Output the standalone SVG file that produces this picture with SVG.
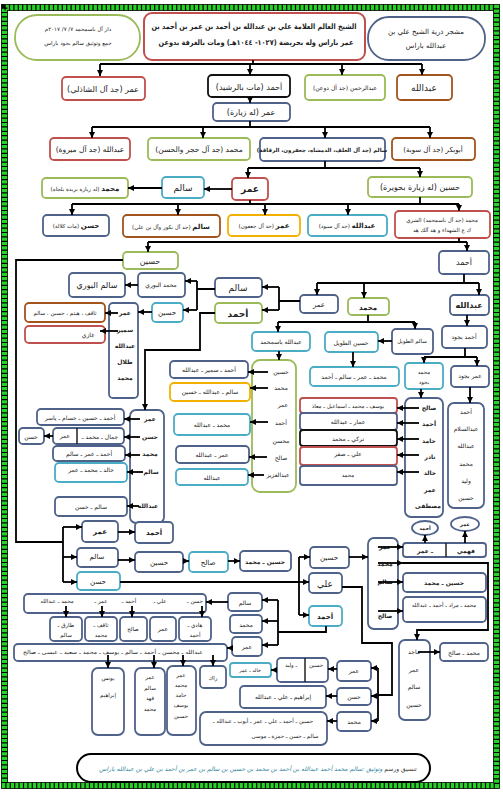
<svg xmlns="http://www.w3.org/2000/svg" width="503" height="793" viewBox="0 0 503 793">
<defs>
<marker id="ar" viewBox="0 0 10 10" refX="10" refY="5" markerWidth="6" markerHeight="6" markerUnits="userSpaceOnUse" orient="auto"><path d="M0,0 L10,5 L0,10 z" fill="#000"/></marker>
<style>
.bx{fill:#fff;stroke-width:1.8}
.bl{stroke:#4f6289}.rd{stroke:#c0504d}.gr{stroke:#9bbb59}.br{stroke:#a3541c}.tl{stroke:#4bacc6}.yl{stroke:#f2b100}.bk{stroke:#111}
text{font-family:"DejaVu Sans",sans-serif;font-size:7px;fill:#222;text-anchor:middle;direction:rtl}
.b{font-weight:bold}
.s{font-size:5.5px}
.t{font-size:6px}
.dv{stroke:#222;stroke-width:1.5}
#connectors path{fill:none;stroke:#000;stroke-width:1.8}
#connectors .a{marker-end:url(#ar)}
</style>
</defs>
<rect x="0" y="0" width="503" height="793" fill="#fff"/>
<g id="frame" fill="none">
<rect x="4.5" y="7.5" width="492" height="778" stroke="#27d327" stroke-width="6"/>
<rect x="4.5" y="7.5" width="492" height="778" stroke="#000" stroke-width="6" stroke-dasharray="1.2 3.2"/>
<rect x="1.5" y="4.5" width="498" height="784" stroke="#000" stroke-width="0.8"/>
<rect x="7.5" y="10.5" width="486" height="772" stroke="#000" stroke-width="0.8"/>
</g>

<g id="n1"><rect class="bx gr" x="15" y="15" width="125" height="45" rx="22"/><text x="78" y="31" class="s">دار آل باسمحمد ٧/ ٧/ ٢٠١٧م</text><text x="78" y="45" class="s">جمع وتوثيق سالم بجود باراس</text></g>
<g id="n2"><rect class="bx rd" x="144" y="13" width="221" height="47" rx="8" style="stroke-width:2"/><text x="254" y="29" class="b" style="font-size:7.5px" textLength="205" lengthAdjust="spacingAndGlyphs">الشيخ العالم العلامة علي بن عبدالله بن أحمد بن عمر بن أحمد بن</text><text x="256" y="45" class="b" style="font-size:7.5px" textLength="195" lengthAdjust="spacingAndGlyphs">عمر باراس وله بحريضة (١٠٢٧- ١٠٤٤هـ) ومات بالغرفة بدوعن</text></g>
<g id="n3"><rect class="bx bl" x="368" y="17" width="117" height="43" rx="21"/><text x="426" y="34">مشجر ذرية الشيخ علي بن</text><text x="426" y="48">عبدالله  باراس</text></g>

<g id="n4"><rect class="bx rd" x="62" y="77" width="83" height="23" rx="4"/><text x="103" y="92" style="font-size:8px">عمر (جد آل الشاذلي)</text></g>
<g id="n5"><rect class="bx bk" x="208" y="75" width="82" height="22" rx="4"/><text x="249" y="90" style="font-size:8px">أحمد (مات بالرشيد)</text></g>
<g id="n6"><rect class="bx gr" x="305" y="75" width="80" height="25" rx="4"/><text x="345" y="90" class="t">عبدالرحمن (جد آل دوعن)</text></g>
<g id="n7"><rect class="bx br" x="397" y="75" width="55" height="25" rx="4"/><text x="424" y="91" style="font-size:9px">عبدالله</text></g>
<g id="n8"><rect class="bx bl" x="213" y="103" width="77" height="18" rx="4"/><text x="251" y="115" style="font-size:8px">عمر (له زيارة)</text></g>

<g id="n9"><rect class="bx rd" x="50" y="138" width="80" height="22" rx="4"/><text x="90" y="152" style="font-size:7.5px">عبدالله (جد آل ميروة)</text></g>
<g id="n10"><rect class="bx gr" x="148" y="138" width="102" height="22" rx="4"/><text x="199" y="152" style="font-size:7.5px">محمد (جد آل حجر والحسن)</text></g>
<g id="n11"><rect class="bx bl" x="260" y="138" width="125" height="23" rx="4"/><text x="322" y="152" class="s b">سالم (جد آل العلف، الدمشاه، جعفرون، الرقاقة)</text></g>
<g id="n12"><rect class="bx br" x="392" y="138" width="83" height="22" rx="4"/><text x="433" y="152">أبوبكر (جد آل سوبة)</text></g>

<g id="n13"><rect class="bx rd" x="232" y="178" width="36" height="22" rx="4"/><text x="250" y="192" class="b" style="font-size:9px">عمر</text></g>
<g id="n14"><rect class="bx tl" x="162" y="177" width="42" height="21" rx="4"/><text x="183" y="191" style="font-size:9px">سالم</text></g>
<g id="n15"><rect class="bx gr" x="42" y="178" width="86" height="20" rx="4"/><text x="85" y="191" class="s"><tspan class="b" style="font-size:7px">محمد</tspan> (له زيارة بريدة بلجاه)</text></g>
<g id="n16"><rect class="bx gr" x="368" y="177" width="104" height="20" rx="4"/><text x="420" y="190" style="font-size:8px">حسين (له زيارة بحويرة)</text></g>

<g id="n17"><rect class="bx bl" x="43" y="215" width="66" height="21" rx="4"/><text x="76" y="228" class="s"><tspan class="b" style="font-size:7px">حسن</tspan> (مات كلالة)</text></g>
<g id="n18"><rect class="bx br" x="123" y="215" width="97" height="22" rx="4"/><text x="171" y="229" class="s"><tspan class="b" style="font-size:7px">سالم</tspan> (جد آل بكور وآل بن علي)</text></g>
<g id="n19"><rect class="bx yl" x="228" y="215" width="72" height="21" rx="4"/><text x="264" y="228" class="s"><tspan class="b" style="font-size:7px">عمر</tspan> (جد آل جعفون)</text></g>
<g id="n20"><rect class="bx tl" x="308" y="215" width="79" height="21" rx="4"/><text x="347" y="228" class="s"><tspan class="b" style="font-size:7px">عبدالله</tspan> (جد آل سيود)</text></g>
<g id="n21"><rect class="bx rd" x="395" y="211" width="95" height="27" rx="4"/><text x="442" y="222" class="s">محمد (جد آل باسمحمد) الشري</text><text x="442" y="232" class="s">ك ع الشهداء و هد آلك هد</text></g>

<g id="n22"><rect class="bx gr" x="123" y="252" width="55" height="17" rx="4"/><text x="150" y="264" style="font-size:8px">حسين</text></g>
<g id="n23"><rect class="bx bl" x="439" y="251" width="50" height="23" rx="4"/><text x="464" y="265" style="font-size:8px">أحمد</text></g>

<g id="n24"><rect class="bx bl" x="300" y="295" width="38" height="18" rx="4"/><text x="319" y="307">عمر</text></g>
<g id="n25"><rect class="bx gr" x="348" y="298" width="41" height="17" rx="4"/><text x="368" y="310" class="b">محمد</text></g>
<g id="n26"><rect class="bx bl" x="450" y="295" width="39" height="20" rx="4"/><text x="469" y="308" class="b" style="font-size:8px">عبدالله</text></g>
<g id="n27"><rect class="bx bl" x="215" y="278" width="47" height="19" rx="4"/><text x="238" y="291" style="font-size:9px">سالم</text></g>
<g id="n28"><rect class="bx gr" x="215" y="303" width="47" height="20" rx="4"/><text x="238" y="317" class="b" style="font-size:9px">أحمد</text></g>
<g id="n29"><rect class="bx bl" x="138" y="273" width="47" height="24" rx="4"/><text x="161" y="287" class="t">محمد البوري</text></g>
<g id="n30"><rect class="bx bl" x="69" y="273" width="56" height="24" rx="4"/><text x="97" y="288" style="font-size:8px">سالم البوري</text></g>
<g id="n31"><rect class="bx tl" x="152" y="303" width="31" height="19" rx="4"/><text x="167" y="315">حسين</text></g>
<g id="n32"><rect class="bx bl" x="109" y="303" width="29" height="95" rx="4"/><text x="125" y="315" class="b t">عمر</text><text x="125" y="332" class="b t">سمير</text><text x="125" y="348" class="b t">عبدالله</text><text x="125" y="364" class="b t">طلال</text><text x="125" y="380" class="b t">محمد</text></g>
<g id="n33"><rect class="bx br" x="25" y="303" width="80" height="19" rx="4"/><text x="65" y="315" class="s">ثاقف ، هيثم ، حسين ، سالم</text></g>
<g id="n34"><rect class="bx rd" x="25" y="326" width="80" height="17" rx="4"/><text x="88" y="337" class="t">غازي</text></g>

<g id="n35"><rect class="bx bl" x="130" y="410" width="34" height="113" rx="6"/><text x="150" y="421" class="b t">عمر</text><text x="150" y="439" class="b t">حسن</text><text x="150" y="456" class="b t">محمد</text><text x="151" y="474" class="b t">سالم</text><text x="148" y="508" class="b t">عبدالله</text></g>
<g id="n36"><rect class="bx bl" x="37" y="409" width="87" height="16" rx="4"/><text x="80" y="420" class="t">أحمد ـ حسين ـ حسام ـ ياسر</text></g>
<g id="n37"><rect class="bx bl" x="53" y="428" width="71" height="16" rx="4"/><line class="dv" x1="77" y1="428" x2="77" y2="444"/><text x="100" y="439" class="t">جمال ـ محمد ـ</text><text x="65" y="438" class="t">عمر</text></g>
<g id="n38"><rect class="bx bl" x="19" y="428" width="25" height="16" rx="4"/><text x="31" y="439" class="t">حسن</text></g>
<g id="n39"><rect class="bx bl" x="53" y="446" width="72" height="15" rx="4"/><text x="89" y="456" class="t">أحمد ـ عمر ـ سالم</text></g>
<g id="n40"><rect class="bx tl" x="55" y="463" width="72" height="19" rx="4"/><text x="91" y="472" class="t">خالد ـ محمد ـ عمر</text></g>
<g id="n41"><rect class="bx bl" x="55" y="497" width="72" height="19" rx="4"/><text x="91" y="509" class="t">سالم ـ حسن</text></g>

<g id="n42"><rect class="bx tl" x="252" y="332" width="58" height="19" rx="4"/><text x="281" y="344" class="t">عبدالله باسمحمد</text></g>
<g id="n43"><rect class="bx gr" x="252" y="360" width="44" height="132" rx="8"/><text x="281" y="374" class="t">حسين</text><text x="281" y="390" class="t">محمد</text><text x="283" y="407" class="t">عمر</text><text x="281" y="425" class="t">أحمد</text><text x="281" y="443" class="t">محسن</text><text x="281" y="460" class="t">صالح</text><text x="278" y="477" class="t">عبدالعزيز</text></g>
<g id="n44"><rect class="bx bl" x="170" y="361" width="78" height="17" rx="4"/><text x="209" y="372" class="t">أحمد ـ سمير ـ عبدالله</text></g>
<g id="n45"><rect class="bx yl" x="170" y="383" width="80" height="18" rx="4"/><text x="210" y="394" class="t">سالم ـ عبدالله ـ حسين</text></g>
<g id="n46"><rect class="bx tl" x="174" y="414" width="76" height="21" rx="4"/><text x="212" y="427" class="t">محمد ـ عبدالله</text></g>
<g id="n47"><rect class="bx bl" x="176" y="446" width="73" height="17" rx="4"/><text x="212" y="457" class="t">عمر ـ عبدالله</text></g>
<g id="n48"><rect class="bx tl" x="176" y="469" width="72" height="16" rx="4"/><text x="212" y="480" class="t">عبدالله</text></g>

<g id="n49"><rect class="bx bl" x="392" y="329" width="41" height="25" rx="4"/><text x="412" y="343" class="s">سالم الطويل</text></g>
<g id="n50"><rect class="bx tl" x="325" y="332" width="53" height="20" rx="4"/><text x="351" y="345" class="t">حسين الطويل</text></g>
<g id="n51"><rect class="bx tl" x="310" y="367" width="89" height="19" rx="4"/><text x="354" y="379" class="t">محمد ـ عمر ـ سالم ـ أحمد</text></g>
<g id="n52"><rect class="bx bl" x="442" y="326" width="45" height="22" rx="4"/><text x="464" y="339" class="t">أحمد بجود</text></g>
<g id="n53"><rect class="bx tl" x="405" y="363" width="38" height="26" rx="4"/><text x="424" y="374" class="s">محمد</text><text x="424" y="384" class="s">بجود</text></g>
<g id="n54"><rect class="bx bl" x="451" y="366" width="38" height="21" rx="4"/><text x="470" y="378" class="t">عمر بجود</text></g>
<g id="n55"><rect class="bx bl" x="405" y="398" width="38" height="119" rx="6"/><text x="429" y="410" class="b t">صالح</text><text x="429" y="426" class="b t">أحمد</text><text x="429" y="443" class="b t">حامد</text><text x="430" y="459" class="b t">نادر</text><text x="430" y="475" class="b t">خالد</text><text x="430" y="492" class="b t">عمر</text><text x="428" y="508" class="b t">مصطفى</text></g>
<g id="n56"><rect class="bx rd" x="300" y="398" width="97" height="15" rx="3"/><text x="348" y="408" class="s">يوسف ـ محمد ـ اسماعيل ـ معاذ</text></g>
<g id="n57"><rect class="bx bl" x="300" y="413" width="97" height="17" rx="3"/><text x="348" y="424" class="t">عمار ـ عبدالله</text></g>
<g id="n58"><rect class="bx bk" x="300" y="430" width="97" height="16" rx="3"/><text x="348" y="441" class="t">تركي ـ محمد</text></g>
<g id="n59"><rect class="bx rd" x="300" y="447" width="97" height="18" rx="3"/><text x="348" y="456" class="t">علي ـ صقر</text></g>
<g id="n60"><rect class="bx bl" x="300" y="466" width="97" height="19" rx="3"/><text x="348" y="477" class="s">محمد</text></g>
<g id="n61"><rect class="bx bl" x="448" y="403" width="36" height="105" rx="6"/><text x="466" y="414" class="t">أحمد</text><text x="466" y="431" class="t">عبدالسلام</text><text x="466" y="448" class="t">عبدالله</text><text x="466" y="466" class="t">محمد</text><text x="466" y="483" class="t">وليد</text><text x="466" y="500" class="t">حسين</text></g>

<g id="n62"><rect class="bx bl" x="82" y="521" width="36" height="21" rx="4"/><text x="100" y="534" class="b">عمر</text></g>
<g id="n63"><rect class="bx bl" x="135" y="522" width="38" height="21" rx="4"/><text x="154" y="535" class="b">أحمد</text></g>
<g id="n64"><rect class="bx bl" x="77" y="548" width="41" height="19" rx="4"/><text x="97" y="559">سالم</text></g>
<g id="n65"><rect class="bx bl" x="135" y="552" width="48" height="20" rx="4"/><text x="159" y="565">حسين</text></g>
<g id="n66"><rect class="bx tl" x="189" y="552" width="39" height="20" rx="4"/><text x="208" y="565">صالح</text></g>
<g id="n67"><rect class="bx bl" x="240" y="551" width="51" height="20" rx="4"/><text x="265" y="564" class="b t">حسين ـ محمد</text></g>
<g id="n68"><rect class="bx tl" x="77" y="572" width="43" height="18" rx="4"/><text x="98" y="584">حسن</text></g>
<g id="n69"><rect class="bx bl" x="310" y="547" width="39" height="21" rx="4"/><text x="329" y="560">حسين</text></g>
<g id="n70"><rect class="bx bl" x="309" y="573" width="33" height="20" rx="4"/><text x="325" y="587" style="font-size:9px">علي</text></g>
<g id="n71"><rect class="bx tl" x="309" y="606" width="33" height="20" rx="4"/><text x="325" y="619" class="b">أحمد</text></g>
<g id="n72"><rect class="bx bl" x="368" y="538" width="30" height="91" rx="6"/><text x="385" y="549" class="b t">عمر</text><text x="385" y="566" class="b t">محمد</text><text x="385" y="584" class="b t">سالم</text><text x="385" y="618" class="b t">صالح</text></g>
<g id="n73"><rect class="bx bl" x="403" y="543" width="83" height="14" rx="3"/><line class="dv" x1="446" y1="543" x2="446" y2="557"/><text x="466" y="553" class="b t">فهمي</text><text x="425" y="553" class="b t">ـ عمر</text></g>
<g id="n74"><ellipse class="bx bl" cx="425" cy="528" rx="13" ry="7"/><text x="425" y="530" class="b" style="font-size:5px">أحمد</text></g>
<g id="n75"><ellipse class="bx bl" cx="465" cy="524" rx="14" ry="7"/><text x="465" y="526" class="b" style="font-size:5px">عمر</text></g>
<g id="n76"><rect class="bx bl" x="403" y="573" width="83" height="19" rx="4"/><text x="444" y="585" class="b t">حسين ـ محمد</text></g>
<g id="n77"><rect class="bx bl" x="403" y="597" width="83" height="25" rx="4"/><text x="444" y="607" class="s">محمد ـ مراد ـ أحمد ـ عبدالله</text></g>
<g id="n78"><rect class="bx bl" x="399" y="640" width="31" height="80" rx="6"/><text x="414" y="654" class="t">ماجد</text><text x="414" y="672" class="t">عمر</text><text x="414" y="689" class="t">سالم</text><text x="414" y="707" class="t">حسين</text></g>
<g id="n79"><rect class="bx bl" x="440" y="643" width="48" height="18" rx="4"/><text x="464" y="655" class="t">محمد ـ صالح</text></g>
<g id="n80"><rect class="bx bl" x="337" y="661" width="34" height="20" rx="4"/><text x="354" y="673" class="t">عمر</text></g>
<g id="n81"><rect class="bx bl" x="337" y="688" width="34" height="17" rx="4"/><text x="354" y="699" class="t">حسن</text></g>
<g id="n82"><rect class="bx bl" x="337" y="712" width="34" height="19" rx="4"/><text x="354" y="724" class="t">محمد</text></g>
<g id="n83"><rect class="bx bl" x="277" y="658" width="51" height="24" rx="4"/><line class="dv" x1="305" y1="658" x2="305" y2="682"/><text x="316" y="667" class="s">حسين</text><text x="291" y="667" class="s">ـ وليد</text></g>
<g id="n84"><rect class="bx tl" x="230" y="663" width="41" height="14" rx="3"/><text x="250" y="672" style="font-size:5px">خالد ـ عمر</text></g>
<g id="n85"><rect class="bx bl" x="240" y="686" width="86" height="22" rx="4"/><text x="283" y="699" class="t">إبراهيم ـ علي ـ عبدالله</text></g>
<g id="n86"><rect class="bx bl" x="200" y="712" width="127" height="33" rx="6"/><text x="263" y="723" class="s">حسين ـ أحمد ـ علي ـ عمر ـ أيوب ـ عبدالله ـ</text><text x="285" y="738" class="s">سالم ـ حسن ـ حمزة ـ موسى</text></g>
<g id="n87"><rect class="bx bl" x="228" y="593" width="34" height="18" rx="4"/><text x="245" y="605" class="t">سالم</text></g>
<g id="n88"><rect class="bx bl" x="230" y="615" width="32" height="18" rx="4"/><text x="246" y="627" class="t">محمد</text></g>
<g id="n89"><rect class="bx bl" x="232" y="637" width="30" height="19" rx="4"/><text x="247" y="649" class="t">عمر</text></g>
<g id="n90"><rect class="bx bl" x="24" y="594" width="182" height="19" rx="4"/><text x="195" y="603" class="s">حسن ـ</text><text x="160" y="603" class="s">علي ـ</text><text x="129" y="603" class="s">أحمد ـ</text><text x="101" y="603" class="s">عمر ـ</text><text x="57" y="603" class="s">محمد ـ عبدالله</text></g>
<g id="n91"><rect class="bx bl" x="50" y="617" width="32" height="24" rx="4"/><text x="66" y="627" class="s">طارق ـ</text><text x="66" y="637" class="s">سالم</text></g>
<g id="n92"><rect class="bx bl" x="85" y="617" width="32" height="24" rx="4"/><text x="101" y="627" class="s">ثاقف ـ</text><text x="101" y="637" class="s">محمد</text></g>
<g id="n93"><rect class="bx bl" x="120" y="617" width="27" height="24" rx="4"/><text x="133" y="631" class="s">صالح</text></g>
<g id="n94"><rect class="bx bl" x="150" y="617" width="26" height="24" rx="4"/><text x="163" y="631" class="t">عمر</text></g>
<g id="n95"><rect class="bx bl" x="179" y="617" width="32" height="24" rx="4"/><text x="195" y="627" class="s">هادي ـ</text><text x="195" y="637" class="s">أحمد</text></g>
<g id="n96"><rect class="bx bl" x="14" y="644" width="213" height="17" rx="4"/><text x="113" y="654" class="s" textLength="180" lengthAdjust="spacingAndGlyphs">عبدالله ـ  محسن ـ  أحمد ـ  سالم ـ يوسف ـ محمد ـ سعيد ـ عيسى ـ صالح</text></g>
<g id="n97"><rect class="bx bl" x="92" y="668" width="32" height="67" rx="6"/><text x="108" y="680" class="s">يونس</text><text x="108" y="697" class="s">إبراهيم</text></g>
<g id="n98"><rect class="bx bl" x="135" y="668" width="30" height="67" rx="6"/><text x="150" y="679" class="s">عمر</text><text x="150" y="690" class="s">سالم</text><text x="150" y="700" class="s">فهد</text><text x="150" y="711" class="s">محمد</text></g>
<g id="n99"><rect class="bx bl" x="167" y="666" width="29" height="69" rx="6"/><text x="181" y="677" class="s">عمر</text><text x="181" y="687" class="s">محمد</text><text x="181" y="697" class="s">حامد</text><text x="181" y="707" class="s">يوسف</text><text x="181" y="718" class="s">حسين</text></g>
<g id="n100"><rect class="bx bl" x="200" y="666" width="26" height="22" rx="4"/><text x="213" y="680" class="s">راك</text></g>
<g id="n101"><rect x="77" y="754" width="353" height="28" rx="14" fill="#fff" stroke="#000" stroke-width="2"/><text x="258" y="771" style="font-size:6px;font-style:italic;fill:#31859c"><tspan style="fill:#333;font-style:normal">تنسيق ورسم </tspan>وتوثيق :سالم محمد أحمد عبدالله بن أحمد بن محمد بن حسين بن سالم بن عمر بن أحمد بن علي بن عبدالله باراس</text></g>

<g id="connectors">
<path d="M253,60 V64 M100,64 H422"/>
<path class="a" d="M100,64 V76"/><path class="a" d="M250,64 V75"/><path class="a" d="M342,64 V75"/><path class="a" d="M422,64 V75"/>
<path class="a" d="M250,97 V103"/>
<path d="M250,121 V127 M92,127 H430"/>
<path class="a" d="M92,127 V138"/><path class="a" d="M203,127 V138"/><path class="a" d="M325,127 V138"/><path class="a" d="M430,127 V138"/>
<path d="M325,161 V168 M248,168 H420"/>
<path class="a" d="M248,168 V178"/><path class="a" d="M420,168 V177"/>
<path class="a" d="M232,189 H204"/><path class="a" d="M162,188 H128"/>
<path d="M250,200 V204 M420,197 V204 M72,204 H459"/>
<path class="a" d="M72,204 V215"/><path class="a" d="M178,204 V215"/><path class="a" d="M265,204 V215"/><path class="a" d="M348,204 V215"/><path class="a" d="M459,204 V211"/>
<path d="M459,238 V242 M148,242 H467"/>
<path class="a" d="M148,242 V252"/><path class="a" d="M467,242 V251"/>
<path d="M123,260 H16 V542 H63 M63,527 V582"/>
<path class="a" d="M63,527 H82"/><path class="a" d="M63,557 H77"/><path class="a" d="M63,582 H77"/>
<path d="M464,274 V283 M317,283 H479"/>
<path class="a" d="M317,283 V295"/><path class="a" d="M364,283 V298"/><path class="a" d="M479,283 V295"/>
<path d="M300,301 H279 M279,287 V310"/>
<path class="a" d="M279,287 H262"/><path class="a" d="M279,310 H262"/>
<path d="M215,289 H197 M197,281 V310"/>
<path class="a" d="M197,281 H185"/><path class="a" d="M197,310 H183"/>
<path class="a" d="M138,285 H125"/>
<path class="a" d="M152,312 H138"/>
<path class="a" d="M118,313 H105"/><path class="a" d="M118,331 H100"/>
<path class="a" d="M215,313 H200 V350 H145 V410"/>
<path class="a" d="M140,419 H124"/><path class="a" d="M140,437 H124"/><path class="a" d="M53,436 H44"/><path class="a" d="M140,455 H125"/><path class="a" d="M143,472 H127"/><path class="a" d="M139,506 H127"/>
<path d="M368,315 V322 M278,322 H415"/>
<path class="a" d="M278,322 V332"/><path class="a" d="M415,322 V329"/>
<path class="a" d="M279,351 V360"/>
<path class="a" d="M268,372 H248"/><path class="a" d="M268,388 H250"/><path class="a" d="M268,422 H250"/><path class="a" d="M267,457 H249"/><path class="a" d="M264,475 H248"/>
<path class="a" d="M392,341 H378"/>
<path class="a" d="M353,352 V367"/>
<path class="a" d="M467,315 V326"/>
<path d="M465,348 V357 M424,357 H477"/>
<path class="a" d="M424,357 V363"/><path class="a" d="M477,357 V366"/>
<path class="a" d="M421,389 V398"/>
<path class="a" d="M419,408 H397"/><path class="a" d="M419,423 H397"/><path class="a" d="M419,439 H397"/><path class="a" d="M419,455 H397"/><path class="a" d="M419,472 H397"/>
<path class="a" d="M470,387 V403"/>
<path class="a" d="M118,532 H135"/><path class="a" d="M118,560 H135"/><path class="a" d="M183,561 H189"/><path class="a" d="M228,561 H240"/>
<path d="M120,582 H299 M299,557 V615"/>
<path class="a" d="M299,557 H310"/><path class="a" d="M299,582 H309"/><path class="a" d="M299,615 H309"/>
<path class="a" d="M349,557 H368"/>
<path class="a" d="M378,547 H403"/><path class="a" d="M378,563 H403"/><path class="a" d="M378,582 H403"/><path class="a" d="M378,611 H403"/>
<path class="a" d="M403,563 H488 V630 H417 V640"/>
<path class="a" d="M425,543 V535"/><path class="a" d="M465,543 V531"/>
<path class="a" d="M418,652 H440"/>
<path d="M342,587 H362 V643 H392 V695 H378 M378,668 V721"/>
<path class="a" d="M378,668 H371"/><path class="a" d="M378,696 H371"/><path class="a" d="M378,721 H371"/>
<path class="a" d="M337,669 H328"/><path class="a" d="M277,670 H271"/>
<path class="a" d="M337,696 H326"/><path class="a" d="M337,721 H327"/>
<path d="M326,626 V632 H278 M278,600 V645"/>
<path class="a" d="M278,600 H262"/><path class="a" d="M278,621 H262"/><path class="a" d="M278,645 H262"/>
<path class="a" d="M228,602 H206"/>
<path class="a" d="M66,606 V617"/><path class="a" d="M102,606 V617"/><path class="a" d="M132,606 V617"/><path class="a" d="M202,606 V617"/>
<path class="a" d="M232,648 H227"/>
<path class="a" d="M108,655 V668"/><path class="a" d="M154,655 V668"/><path class="a" d="M183,655 V666"/><path class="a" d="M213,655 V666"/>
</g>
</svg>
